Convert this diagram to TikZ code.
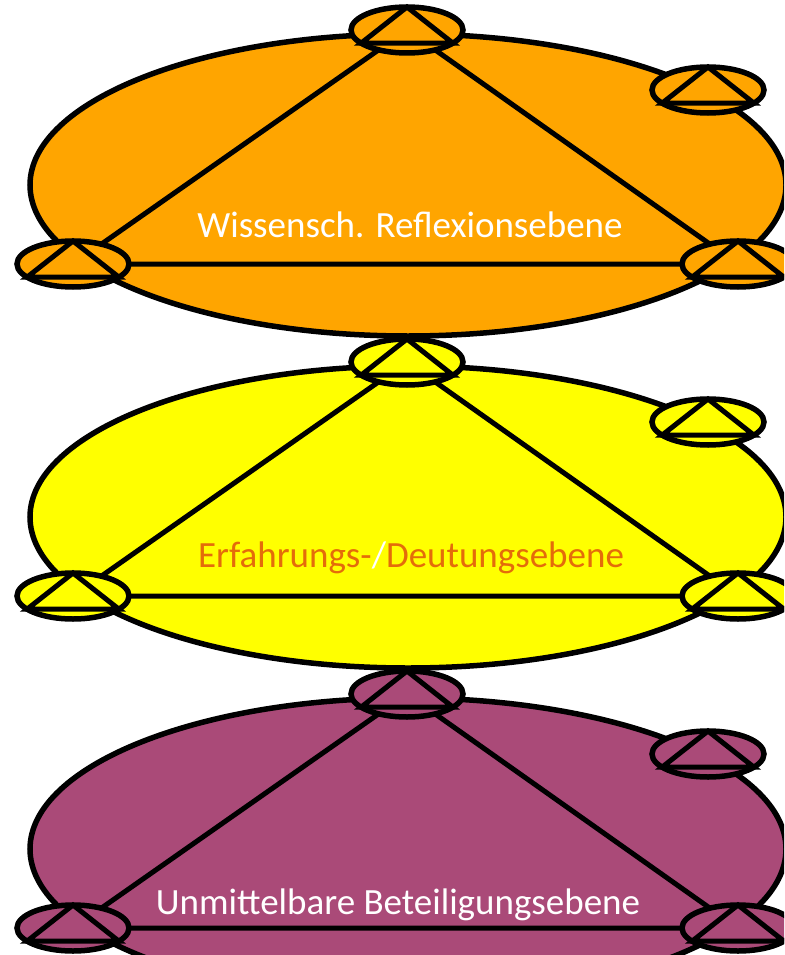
\documentclass[tikz,border=0pt]{standalone}
\usepackage{fontspec}
\setmainfont{Carlito}
\usetikzlibrary{shapes.geometric}
\definecolor{lorange}{RGB}{255,165,0}
\definecolor{lyellow}{RGB}{255,255,0}
\definecolor{lpurple}{RGB}{170,74,120}
\definecolor{torange}{RGB}{228,108,10}
\tikzset{
 bigell/.style={draw, ellipse, minimum width=756pt, minimum height=302pt, inner sep=0pt, outer sep=0pt, line width=5.5pt},
 smallell/.style={draw, ellipse, minimum width=112pt, minimum height=46pt, inner sep=0pt, outer sep=0pt, line width=5.5pt},
 conn/.style={line width=5pt},
 lbl/.style={font=\fontsize{37}{44}\selectfont, inner sep=0pt, anchor=base}
}
\newcommand\ebene[3]{%
\begin{scope}[shift={(0,#2)}]
\node[bigell, fill=#3] (E#1) at (408,185) {};
\coordinate (T#1) at (407,30);
\coordinate (L#1) at (73,264);
\coordinate (R#1) at (738,264);
\coordinate (U#1) at (708,90);
\draw[conn] (T#1) -- (L#1) -- (R#1) -- cycle;
\foreach \n in {T,L,R,U} {
 \node[smallell, fill=#3] (s\n#1) at (\n#1) {};
 \draw[conn] (s\n#1.north) -- (s\n#1.196) -- (s\n#1.344) -- cycle;
}
\end{scope}}
\begin{document}
\begin{tikzpicture}[x=1pt,y=-1pt]
\useasboundingbox (0,0) rectangle (784,955);
\clip (0,0) rectangle (784,955);
\ebene{a}{0}{lorange}
\node[lbl, text=white] (ta) at (410,237) {Wissensch. Reflexionsebene};
\ebene{b}{332}{lyellow}
\node[lbl, text=torange] (tb) at (411,567) {Erfahrungs-\textcolor{white}{/}Deutungsebene};
\ebene{c}{664}{lpurple}
\node[lbl, text=white] (tc) at (398,914) {Unmittelbare Beteiligungsebene};
\end{tikzpicture}
\end{document}
